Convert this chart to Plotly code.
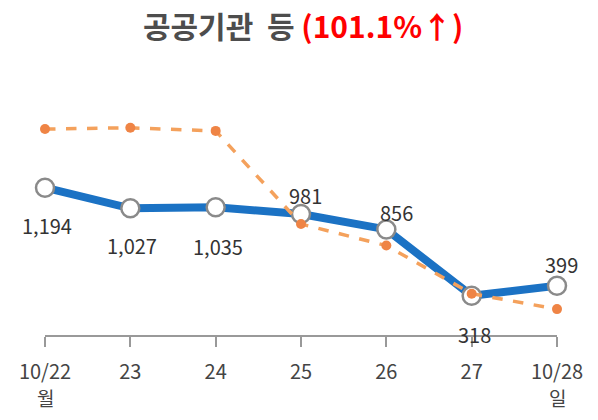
import plotly.graph_objects as go

categories = ["10/22", "23", "24", "25", "26", "27", "10/28"]
day_labels = ["월", "", "", "", "", "", "일"]
this_week = [1194, 1027, 1035, 981, 856, 318, 399]
prev_week = [1670, 1680, 1655, 900, 725, 335, 210]

label_shift_x = [2, 2, 2, 4, 10, 3, 4]
label_shift_y = [-38, -37, -39, 19, 17, -39, 21]

xs = list(range(len(categories)))
FONT = "Noto Sans CJK KR"

fig = go.Figure()
fig.add_trace(go.Scatter(
    x=xs, y=this_week, mode="lines+markers",
    line=dict(color="#1b72c4", width=8),
    marker=dict(size=18, color="white", line=dict(color="#8a8a8a", width=2.5)),
    cliponaxis=False, showlegend=False, hoverinfo="skip"))
fig.add_trace(go.Scatter(
    x=xs, y=prev_week, mode="lines+markers",
    line=dict(color="#f4a15c", width=3.5, dash="dash"),
    marker=dict(size=10, color="#ef8445"),
    cliponaxis=False, showlegend=False, hoverinfo="skip"))

for i, v in enumerate(this_week):
    fig.add_annotation(x=xs[i], y=v, text=f"{v:,}", showarrow=False,
                       xshift=label_shift_x[i], yshift=label_shift_y[i],
                       font=dict(family=FONT, size=20, color="#333333"))

for i, d in enumerate(day_labels):
    if d:
        fig.add_annotation(x=xs[i], y=0, text=d, showarrow=False, yshift=-62,
                           font=dict(family=FONT, size=19, color="#444444"))

fig.update_layout(
    width=598, height=420,
    margin=dict(l=45, r=41, t=113, b=85, autoexpand=False),
    paper_bgcolor="white", plot_bgcolor="white",
    title=dict(
        text="공공기관&nbsp;&nbsp;등 <span style='color:#ff0000'>(101.1%↑)</span>",
        x=0.507, xanchor="center", y=0.935, yanchor="middle",
        font=dict(family=FONT, size=30, color="#4d4d4d", weight="bold")),
    xaxis=dict(range=[0, 6], tickmode="array", tickvals=xs, ticktext=categories,
               automargin=False,
               showline=True, linecolor="#999999", linewidth=1.5,
               ticks="outside", ticklen=10, tickcolor="#999999", tickwidth=1.5,
               showgrid=False, zeroline=False, ticklabelstandoff=8,
               tickfont=dict(family=FONT, size=20, color="#444444")),
    yaxis=dict(range=[0, 1800], visible=False, showgrid=False, zeroline=False,
               automargin=False),
)

fig.write_html("out.html", config={"displayModeBar": False},
               post_script="document.body.style.margin='0';")
